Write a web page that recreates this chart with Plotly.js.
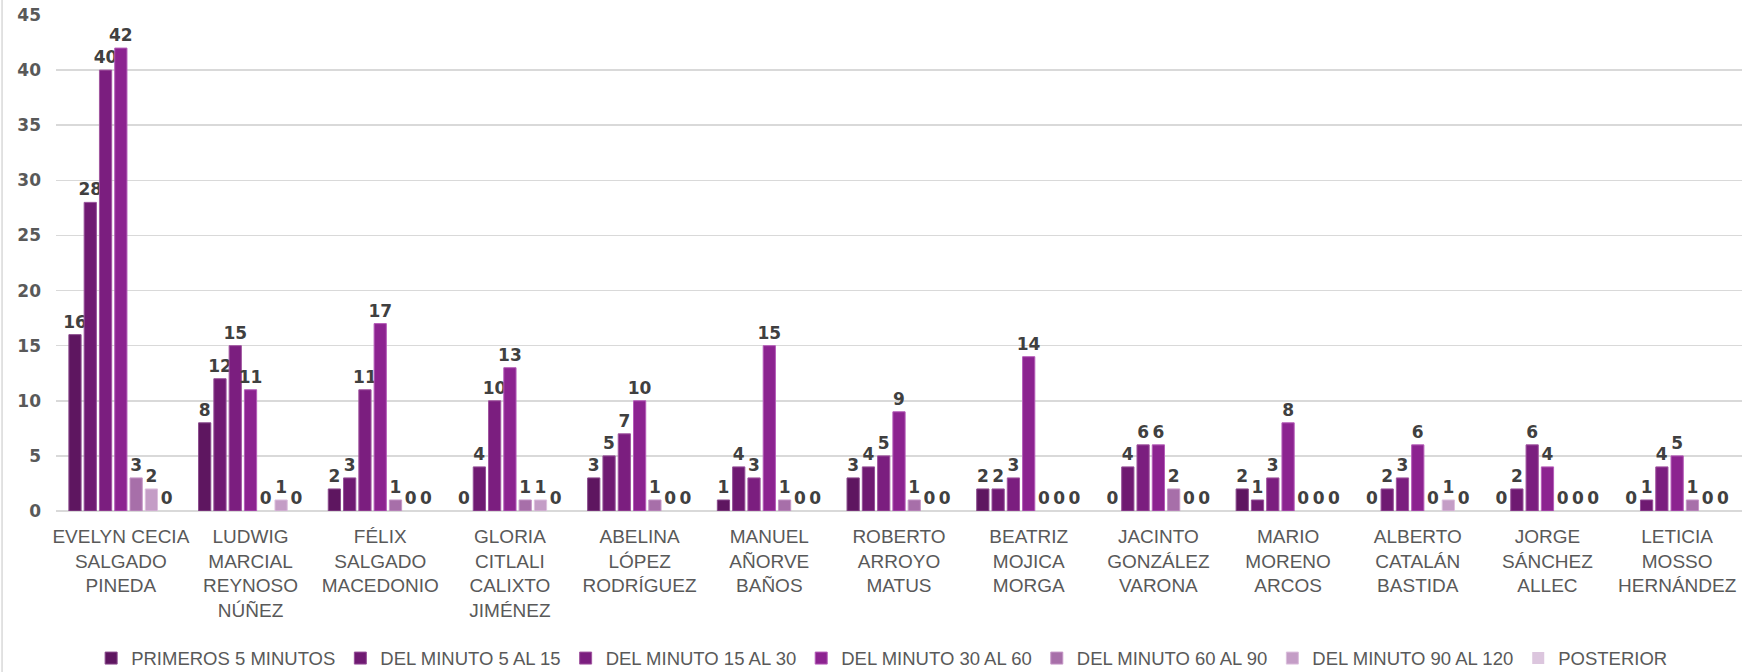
<!DOCTYPE html>
<html>
<head>
<meta charset="utf-8">
<script src="https://cdn.plot.ly/plotly-3.0.1.min.js"></script>
<style>
  html, body { margin: 0; padding: 0; background: #ffffff; }
  #chart { width: 1746px; height: 672px; }
</style>
</head>
<body>
<div id="chart"></div>
<script>
const categories = [
  "EVELYN CECIA<br>SALGADO<br>PINEDA",
  "LUDWIG<br>MARCIAL<br>REYNOSO<br>NÚÑEZ",
  "FÉLIX<br>SALGADO<br>MACEDONIO",
  "GLORIA<br>CITLALI<br>CALIXTO<br>JIMÉNEZ",
  "ABELINA<br>LÓPEZ<br>RODRÍGUEZ",
  "MANUEL<br>AÑORVE<br>BAÑOS",
  "ROBERTO<br>ARROYO<br>MATUS",
  "BEATRIZ<br>MOJICA<br>MORGA",
  "JACINTO<br>GONZÁLEZ<br>VARONA",
  "MARIO<br>MORENO<br>ARCOS",
  "ALBERTO<br>CATALÁN<br>BASTIDA",
  "JORGE<br>SÁNCHEZ<br>ALLEC",
  "LETICIA<br>MOSSO<br>HERNÁNDEZ"
];

const seriesNames = [
  "PRIMEROS 5 MINUTOS",
  "DEL MINUTO 5 AL 15",
  "DEL MINUTO 15 AL 30",
  "DEL MINUTO 30 AL 60",
  "DEL MINUTO 60 AL 90",
  "DEL MINUTO 90 AL 120",
  "POSTERIOR"
];

const primeros5    = [16, 8, 2, 0, 3, 1, 3, 2, 0, 2, 0, 0, 0];
const minuto5a15   = [28, 12, 3, 4, 5, 4, 4, 2, 4, 1, 2, 2, 1];
const minuto15a30  = [40, 15, 11, 10, 7, 3, 5, 3, 6, 3, 3, 6, 4];
const minuto30a60  = [42, 11, 17, 13, 10, 15, 9, 14, 6, 8, 6, 4, 5];
const minuto60a90  = [3, 0, 1, 1, 1, 1, 1, 0, 2, 0, 0, 0, 1];
const minuto90a120 = [2, 1, 0, 1, 0, 0, 0, 0, 0, 0, 1, 0, 0];
const posterior    = [0, 0, 0, 0, 0, 0, 0, 0, 0, 0, 0, 0, 0];

const yTickValues = [0, 5, 10, 15, 20, 25, 30, 35, 40, 45];

const seriesValues = [primeros5, minuto5a15, minuto15a30, minuto30a60, minuto60a90, minuto90a120, posterior];
const colors = ["#5e1660", "#6f1a72", "#7b1e7f", "#8c2390", "#a76fa9", "#c49dc6", "#dcc6de"];
const edgeColors = ["#8a4a8c", "#965098", "#a0559f", "#b55cb8", "#c596c6", "#dcbfdd", "#ecdcec"];

const traces = seriesValues.map((vals, i) => ({
  type: "bar",
  name: seriesNames[i],
  x: categories,
  y: vals,
  text: vals.map(String),
  textposition: "outside",
  constraintext: "none",
  cliponaxis: false,
  textfont: { family: "DejaVu Sans", size: 17, color: "#404040", weight: "bold" },
  marker: {
    color: colors[i],
    line: { color: edgeColors[i], width: vals.map(v => (v === 0 ? 0 : 1)) }
  },
  hoverinfo: "skip"
}));

const layout = {
  width: 1746,
  height: 672,
  paper_bgcolor: "#ffffff",
  plot_bgcolor: "#ffffff",
  margin: { l: 56, r: 4, t: 15, b: 161 },
  barmode: "group",
  bargap: 0.175,
  bargroupgap: 0.2,
  showlegend: true,
  font: { family: "Liberation Sans Narrow, Arial Narrow, sans-serif", color: "#595959" },
  xaxis: {
    type: "category",
    tickfont: { family: "Liberation Sans Narrow, Arial Narrow, sans-serif", size: 19, color: "#595959" },
    ticks: "",
    showgrid: false,
    zeroline: false,
    showline: false,
    ticklabelstandoff: 12,
    automargin: false,
    fixedrange: true
  },
  yaxis: {
    range: [0, 45],
    tickvals: yTickValues,
    ticktext: yTickValues.map(String),
    tickfont: { family: "DejaVu Sans", size: 17, color: "#595959", weight: "bold" },
    ticks: "",
    showgrid: true,
    gridcolor: "#d9d9d9",
    gridwidth: 1.5,
    zeroline: true,
    zerolinecolor: "#d9d9d9",
    zerolinewidth: 1.5,
    showline: false,
    ticklabelstandoff: 14,
    automargin: false,
    fixedrange: true
  },
  legend: {
    orientation: "h",
    xref: "paper",
    yref: "container",
    x: 0.49,
    xanchor: "center",
    y: 0.02,
    yanchor: "middle",
    font: { family: "Liberation Sans Narrow, Arial Narrow, sans-serif", size: 18.5, color: "#595959" },
    itemwidth: 30,
    traceorder: "normal"
  },
  shapes: [{
    type: "line",
    xref: "paper", yref: "paper",
    x0: -0.032, x1: -0.032, y0: -0.33, y1: 1.04,
    line: { color: "#d9d9d9", width: 1.5 }
  }],
  hovermode: false
};

Plotly.newPlot("chart", traces, layout, { displayModeBar: false, staticPlot: true });
</script>
</body>
</html>
